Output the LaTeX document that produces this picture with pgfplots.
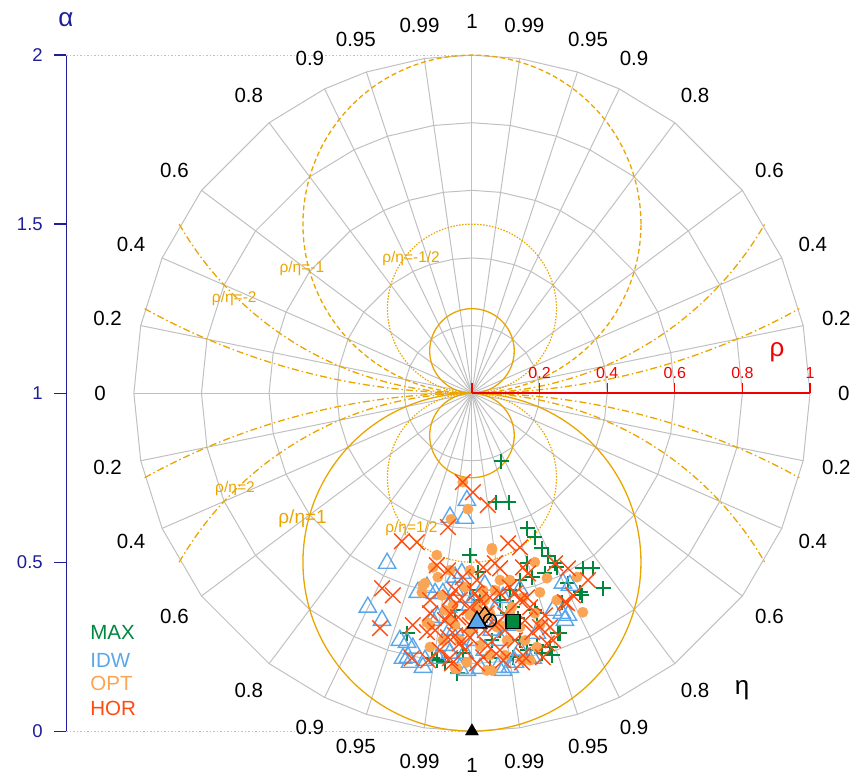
\documentclass[border=0pt]{standalone}
\usepackage{fontspec}
\setmainfont{Liberation Sans}
\usepackage{pgfplots}
\pgfplotsset{compat=1.18}
\definecolor{gridgray}{RGB}{192,192,192}
\definecolor{guide}{RGB}{234,165,0}
\definecolor{maxc}{RGB}{0,135,62}
\definecolor{idwc}{RGB}{90,168,235}
\definecolor{optc}{RGB}{250,165,85}
\definecolor{horc}{RGB}{255,75,15}
\definecolor{alphac}{RGB}{30,30,150}
\definecolor{rhoc}{RGB}{240,0,0}
\newcommand\fs[1]{\fontsize{#1}{#1}\selectfont}
\newcommand\etalab[2]{%
  \node[font=\fs{20.5}] at (axis cs:{1.1*cos(#1)},{1+1.1*sin(#1)}) {#2};
  \node[font=\fs{20.5}] at (axis cs:{-1.1*cos(#1)},{1+1.1*sin(#1)}) {#2};
  \node[font=\fs{20.5}] at (axis cs:{1.1*cos(#1)},{1-1.1*sin(#1)}) {#2};
  \node[font=\fs{20.5}] at (axis cs:{-1.1*cos(#1)},{1-1.1*sin(#1)}) {#2};}
\begin{document}
\begin{tikzpicture}
\begin{axis}[
  x=338pt, y=338pt,
  xmin=-1.2, xmax=1, ymin=0, ymax=2,
  clip=false,
  axis x line=none, axis y line*=left,
  xtick=\empty,
  ytick={0,0.5,1,1.5,2}, yticklabels={0,0.5,1,1.5,2},
  tick align=outside, major tick length=12pt,
  y axis line style={alphac, line width=1.3pt},
  ytick style={alphac, line width=1.3pt},
  yticklabel style={alphac, font=\fs{18.5}, xshift=-8pt},
  /pgf/number format/assume math mode=true,
]
% bounding box
\path (axis cs:-1.396,-0.133) rectangle (axis cs:1.136,2.163);
% dotted reference lines
\draw[gridgray, dash pattern=on 1.5pt off 2pt, line width=0.9pt] (axis cs:-1.2,2) -- (axis cs:0,2);
\draw[gridgray, dash pattern=on 1.5pt off 2pt, line width=0.9pt] (axis cs:-1.2,0) -- (axis cs:0,0);
% radial grid lines
\pgfplotsinvokeforeach{0,11.537,23.578,36.870,53.130,64.158,71.805,81.890,90,98.110,108.195,115.842,126.870,143.130,156.422,168.463,180,191.537,203.578,216.870,233.130,244.158,251.805,261.890,270,278.110,288.195,295.842,306.870,323.130,336.422,348.463}{
  \draw[gridgray, line width=1pt] (axis cs:0,1) -- (axis cs:{cos(#1)},{1+sin(#1)});
}
% polygonal circles
\pgfplotsinvokeforeach{0.2,0.4,0.6,0.8,1}{
  \addplot[gridgray, line width=1pt, samples at={0,11.537,23.578,36.870,53.130,64.158,71.805,81.890,90,98.110,108.195,115.842,126.870,143.130,156.422,168.463,180,191.537,203.578,216.870,233.130,244.158,251.805,261.890,270,278.110,288.195,295.842,306.870,323.130,336.422,348.463,360}] ({#1*cos(x)},{1+#1*sin(x)});
}
% guide curves rho/eta = const
\addplot[guide, line width=1.3pt, domain=0:360, samples=150] ({0.5*cos(x)},{0.5+0.5*sin(x)});
\addplot[guide, line width=1.3pt, dash pattern=on 5pt off 3pt, domain=0:360, samples=150] ({0.5*cos(x)},{1.5+0.5*sin(x)});
\addplot[guide, line width=1.2pt, dash pattern=on 1.5pt off 1.5pt, domain=0:360, samples=120] ({0.25*cos(x)},{0.75+0.25*sin(x)});
\addplot[guide, line width=1.2pt, dash pattern=on 1.5pt off 1.5pt, domain=0:360, samples=120] ({0.25*cos(x)},{1.25+0.25*sin(x)});
\addplot[guide, line width=1.3pt, domain=0:360, samples=90] ({0.125*cos(x)},{0.875+0.125*sin(x)});
\addplot[guide, line width=1.3pt, domain=0:360, samples=90] ({0.125*cos(x)},{1.125+0.125*sin(x)});
\addplot[guide, line width=1.3pt, dash pattern=on 7pt off 3pt on 1.5pt off 3pt, domain=-60:60, samples=100] ({sin(x)},{cos(x)});
\addplot[guide, line width=1.3pt, dash pattern=on 7pt off 3pt on 1.5pt off 3pt, domain=-60:60, samples=100] ({sin(x)},{2-cos(x)});
\addplot[guide, line width=1.3pt, dash pattern=on 7pt off 3pt on 1.5pt off 3pt, domain=-28.955:28.955, samples=100] ({2*sin(x)},{-1+2*cos(x)});
\addplot[guide, line width=1.3pt, dash pattern=on 7pt off 3pt on 1.5pt off 3pt, domain=-28.955:28.955, samples=100] ({2*sin(x)},{3-2*cos(x)});
% guide labels
\node[guide, font=\fs{15.5}] at (axis cs:-0.180,1.399) {ρ/η=-1/2};
\node[guide, font=\fs{15.5}] at (axis cs:-0.503,1.370) {ρ/η=-1};
\node[guide, font=\fs{15.5}] at (axis cs:-0.703,1.281) {ρ/η=-2};
\node[guide, font=\fs{15.5}] at (axis cs:-0.701,0.719) {ρ/η=2};
\node[guide, font=\fs{19}] at (axis cs:-0.501,0.630) {ρ/η=1};
\node[guide, font=\fs{15.5}] at (axis cs:-0.179,0.601) {ρ/η=1/2};
% red rho axis
\draw[rhoc, line width=1.5pt] (axis cs:0,1) -- (axis cs:1,1);
\pgfplotsinvokeforeach{0,0.2,0.4,0.6,0.8,1}{
  \draw[rhoc, line width=1.2pt] (axis cs:#1,1) -- ++(0pt,10pt);
}
\pgfplotsinvokeforeach{0.2,0.4,0.6,0.8,1}{
  \node[rhoc, font=\fs{16}] at (axis cs:#1,1) [yshift=20pt] {#1};
}
\node[rhoc, font=\fs{26}] at (axis cs:0.902,1.121) {ρ};
% eta labels
\etalab{11.537}{0.2}
\etalab{23.578}{0.4}
\etalab{36.870}{0.6}
\etalab{53.130}{0.8}
\etalab{64.158}{0.9}
\etalab{71.805}{0.95}
\etalab{81.890}{0.99}
\node[font=\fs{20.5}] at (axis cs:1.1,1) {0};
\node[font=\fs{20.5}] at (axis cs:-1.1,1) {0};
\node[font=\fs{20.5}] at (axis cs:0,2.1) {1};
\node[font=\fs{20.5}] at (axis cs:0,-0.1) {1};
\node[font=\fs{26}] at (axis cs:0.799,0.121) {η};
\node[alphac, font=\fs{26}] at (axis cs:-1.201,2.104) {α};
% MAX
\addplot[only marks, mark=+, maxc, mark size=7.5pt, line width=2.2pt] coordinates {
(0.086,0.799) (0.071,0.678) (0.109,0.678) (0.163,0.601) (0.186,0.574) (0.207,0.541)
(0.225,0.518) (0.251,0.485) (0.163,0.497) (0.178,0.456) (-0.006,0.521) (0.018,0.470)
(0.328,0.482) (0.358,0.482) (0.388,0.423) (0.320,0.411) (0.284,0.438) (0.121,0.367)
(0.192,0.349) (0.254,0.290) (0.192,0.254) (0.207,0.231) (0.231,0.249) (-0.104,0.210)
(-0.080,0.204) (-0.192,0.290) (-0.044,0.172) (0.121,0.219) (0.059,0.269) (0.104,0.349)
(0.216,0.467) (0.246,0.497) (0.266,0.382) (0.260,0.290) (0.186,0.358) (0.136,0.334)
(0.053,0.216) (0.163,0.240) (-0.027,0.231) (-0.118,0.216) (0.237,0.225) (0.325,0.402)
(-0.006,0.417) (0.083,0.388) (0.142,0.269) (0.083,0.299) (0.024,0.388) (0.142,0.447)
(-0.050,0.358) (0.112,0.417)
};
% IDW
\addplot[only marks, mark=triangle, idwc, mark size=10pt, line width=1.4pt] coordinates {
(-0.015,0.683) (-0.065,0.633) (-0.021,0.630) (-0.251,0.497) (-0.308,0.367) (-0.266,0.328)
(-0.213,0.269) (-0.192,0.263) (-0.175,0.246) (0.269,0.438) (0.290,0.432) (0.240,0.358)
(0.275,0.328) (0.192,0.290) (0.112,0.189) (0.092,0.180) (-0.015,0.180) (-0.145,0.189)
(-0.183,0.204) (-0.160,0.411) (-0.133,0.426) (-0.109,0.408) (-0.086,0.408) (-0.118,0.328)
(-0.101,0.337) (-0.050,0.456) (-0.030,0.467) (-0.189,0.219) (-0.139,0.210) (-0.101,0.216)
(-0.021,0.231) (-0.071,0.367) (-0.012,0.396) (-0.050,0.299) (0.266,0.349) (0.284,0.343)
(0.166,0.216) (0.127,0.204) (0.077,0.189) (0.059,0.299) (0.092,0.396) (-0.204,0.216)
(-0.036,0.186) (0.024,0.186) (0.180,0.216) (-0.065,0.231) (0.038,0.432) (0.068,0.358)
(0.142,0.417) (0.009,0.269) (-0.080,0.254) (-0.006,0.373) (0.053,0.328) (0.112,0.314)
(-0.065,0.299) (0.038,0.240) (0.142,0.240) (0.083,0.269) (-0.050,0.417)
};
% OPT
\addplot[only marks, mark=*, optc, mark size=5.2pt] coordinates {
(-0.027,0.737) (-0.012,0.657) (-0.062,0.627) (0.059,0.536) (-0.104,0.521) (-0.115,0.485)
(-0.101,0.456) (-0.145,0.432) (-0.148,0.411) (-0.089,0.402) (0.222,0.453) (0.311,0.456)
(0.328,0.352) (0.201,0.411) (0.186,0.349) (-0.065,0.328) (-0.133,0.322) (-0.124,0.249)
(-0.015,0.204) (0.044,0.180) (-0.044,0.186) (0.172,0.210) (0.104,0.269) (-0.021,0.426)
(0.033,0.417) (0.015,0.367) (0.151,0.396) (0.083,0.447) (-0.065,0.476) (-0.056,0.373)
(0.112,0.349) (0.053,0.349) (0.142,0.308) (0.074,0.308) (0.192,0.249) (0.251,0.388)
(0.059,0.541) (0.186,0.500) (0.118,0.367) (0.151,0.210) (0.059,0.180) (-0.050,0.186)
(-0.086,0.269) (-0.139,0.438) (-0.006,0.299) (0.098,0.225) (-0.006,0.343) (0.038,0.388)
(0.083,0.314) (-0.036,0.269) (-0.080,0.358) (0.127,0.328) (0.024,0.254) (0.157,0.269)
(-0.050,0.314) (0.068,0.417) (0.112,0.447) (-0.124,0.314) (-0.006,0.476) (0.201,0.314)
(0.053,0.225)
};
% HOR
\addplot[only marks, mark=x, horc, mark size=11pt, line width=1.4pt] coordinates {
(-0.027,0.737) (0.003,0.707) (0.047,0.669) (-0.071,0.604) (-0.207,0.562) (-0.163,0.559)
(-0.266,0.423) (-0.234,0.402) (-0.272,0.305) (-0.178,0.216) (0.107,0.556) (0.142,0.544)
(-0.104,0.491) (-0.071,0.476) (0.284,0.482) (0.343,0.447) (0.299,0.402) (0.281,0.379)
(0.231,0.308) (0.240,0.269) (0.210,0.219) (0.151,0.225) (0.092,0.210) (0.033,0.219)
(-0.175,0.314) (-0.109,0.299) (-0.006,0.278) (-0.036,0.260) (0.053,0.396) (0.083,0.408)
(0.112,0.426) (0.015,0.447) (-0.027,0.456) (0.033,0.485) (0.083,0.482) (0.151,0.485)
(0.163,0.396) (0.172,0.367) (0.201,0.308) (-0.065,0.396) (-0.006,0.367) (0.044,0.349)
(-0.065,0.349) (-0.124,0.349) (-0.059,0.201) (0.009,0.408) (-0.041,0.337) (0.246,0.497)
(0.275,0.382) (0.178,0.293) (0.127,0.408) (0.068,0.497) (0.166,0.467) (0.148,0.204)
(-0.130,0.210) (-0.065,0.216) (0.015,0.201) (0.222,0.260) (-0.133,0.293) (-0.071,0.278)
(-0.036,0.388) (0.024,0.343) (0.068,0.314) (-0.006,0.314) (-0.080,0.328) (0.098,0.299)
(0.127,0.269) (0.047,0.254) (-0.021,0.240) (-0.095,0.240) (0.083,0.240) (0.157,0.328)
(-0.050,0.417) (0.142,0.388) (0.024,0.388) (-0.124,0.388) (0.216,0.343) (0.038,0.299)
(-0.050,0.284) (0.098,0.343)
};
% means
\addplot[only marks, mark=diamond*, mark size=8.5pt, mark options={fill=optc, draw=black, line width=1.4pt}] coordinates {(0.038,0.343)};
\addplot[only marks, mark=o, mark size=6.5pt, mark options={draw=black, line width=1.4pt}] coordinates {(0.053,0.328)};
\addplot[only marks, mark=triangle*, mark size=11pt, mark options={fill=idwc, draw=black, line width=1.4pt}] coordinates {(0.015,0.322)};
\addplot[only marks, mark=square*, mark size=7pt, mark options={fill=maxc, draw=black, line width=1.4pt}] coordinates {(0.121,0.325)};
\addplot[only marks, mark=triangle*, mark size=7.5pt, mark options={fill=black, draw=black}] coordinates {(0,0)};
% legend
\node[maxc, font=\fs{20.5}, anchor=west] at (axis cs:-1.139,0.293) {MAX};
\node[idwc, font=\fs{20.5}, anchor=west] at (axis cs:-1.139,0.210) {IDW};
\node[optc, font=\fs{20.5}, anchor=west] at (axis cs:-1.139,0.142) {OPT};
\node[horc, font=\fs{20.5}, anchor=west] at (axis cs:-1.139,0.068) {HOR};
\end{axis}
\end{tikzpicture}
\end{document}
